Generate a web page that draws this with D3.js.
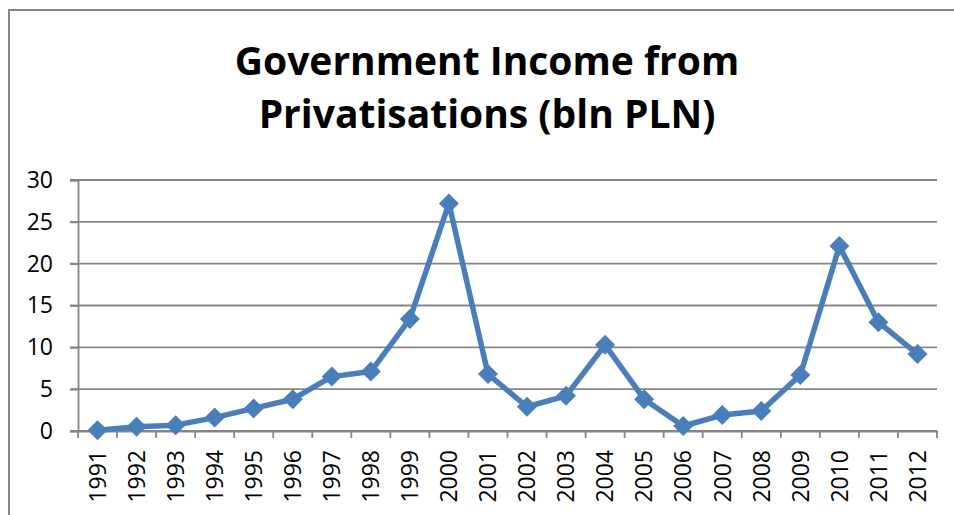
<!DOCTYPE html>
<html>
<head>
<meta charset="utf-8">
<script src="https://cdn.jsdelivr.net/npm/d3@7"></script>
<style>
  body { margin: 0; background: #fff; }
  text { font-family: "Open Sans", "Liberation Sans", sans-serif; fill: #000; }
</style>
</head>
<body>
<div id="chart"></div>
<script>
var years = ["1991","1992","1993","1994","1995","1996","1997","1998","1999","2000","2001",
             "2002","2003","2004","2005","2006","2007","2008","2009","2010","2011","2012"];
var income = [0.1, 0.5, 0.7, 1.6, 2.7, 3.8, 6.5, 7.1, 13.4, 27.2, 6.8,
              2.9, 4.2, 10.3, 3.8, 0.6, 1.9, 2.4, 6.7, 22.1, 13.0, 9.2];
var yTicks = [0, 5, 10, 15, 20, 25, 30];
var titleLines = ["Government Income from", "Privatisations (bln PLN)"];

var width = 954, height = 515;
var margin = { top: 180, right: 17, bottom: 84, left: 78 };
var lineColour = "#4a7ebb";
var gridColour = "#868686";

var svg = d3.select("#chart")
    .append("svg")
    .attr("width", width)
    .attr("height", height);

// outer chart frame (right/bottom run off the picture)
svg.append("rect")
    .attr("x", 9).attr("y", 10)
    .attr("width", 1000).attr("height", 600)
    .attr("fill", "none")
    .attr("stroke", gridColour)
    .attr("stroke-width", 2);

svg.selectAll(".title")
    .data(titleLines)
    .enter().append("text")
    .attr("class", "title")
    .attr("x", 487)
    .attr("y", function(d, i){ return 75 + i * 53; })
    .attr("text-anchor", "middle")
    .style("font-weight", "bold")
    .style("font-size", "39px")
    .text(function(d){ return d; });

var xScale = d3.scaleBand()
    .domain(years)
    .range([margin.left, width - margin.right]);
var yScale = d3.scaleLinear()
    .domain([0, 30])
    .range([height - margin.bottom, margin.top]);

// gridlines
svg.selectAll(".grid")
    .data(yTicks)
    .enter().append("line")
    .attr("class", "grid")
    .attr("x1", margin.left - 8)
    .attr("x2", width - margin.right)
    .attr("y1", function(d){ return yScale(d); })
    .attr("y2", function(d){ return yScale(d); })
    .attr("stroke", gridColour)
    .attr("stroke-width", 1.8);

// y axis
var yAxis = svg.append("g")
    .attr("transform", "translate(" + margin.left + ",0)")
    .attr("font-size", null)
    .call(d3.axisLeft(yScale).tickValues(yTicks).tickSize(8).tickPadding(17));
yAxis.select(".domain").attr("stroke", gridColour).attr("stroke-width", 1.8);
yAxis.selectAll(".tick line").attr("stroke", gridColour).attr("stroke-width", 1.8);
yAxis.selectAll(".tick text")
    .attr("font-family", null)
    .attr("fill", "#000")
    .style("font-size", "23px");

// x axis with ticks between categories
var xAxis = svg.append("g")
    .attr("transform", "translate(0," + yScale(0) + ")")
    .call(d3.axisBottom(xScale).tickSize(0).tickSizeOuter(0));
xAxis.select(".domain").attr("stroke", gridColour).attr("stroke-width", 1.8);
xAxis.selectAll(".tick text")
    .attr("font-family", null)
    .attr("fill", "#000")
    .style("font-size", "23px")
    .attr("text-anchor", "end")
    .attr("transform", "rotate(-90)")
    .attr("x", -19)
    .attr("y", 0)
    .attr("dy", "0.36em");

var bounds = years.map(function(d){ return xScale(d); }).concat([xScale.range()[1]]);
svg.selectAll(".xtick")
    .data(bounds)
    .enter().append("line")
    .attr("class", "xtick")
    .attr("x1", function(d){ return d; })
    .attr("x2", function(d){ return d; })
    .attr("y1", yScale(0))
    .attr("y2", yScale(0) + 7)
    .attr("stroke", gridColour)
    .attr("stroke-width", 1.8);

// series line
var line = d3.line()
    .x(function(d, i){ return xScale(years[i]) + xScale.bandwidth() / 2; })
    .y(function(d){ return yScale(d); });

svg.append("path")
    .datum(income)
    .attr("d", line)
    .attr("fill", "none")
    .attr("stroke", lineColour)
    .attr("stroke-width", 5.5)
    .attr("stroke-linejoin", "round");

var r = 10;
svg.selectAll(".marker")
    .data(income)
    .enter().append("path")
    .attr("class", "marker")
    .attr("transform", function(d, i){
        return "translate(" + (xScale(years[i]) + xScale.bandwidth() / 2) + "," + yScale(d) + ")";
    })
    .attr("d", "M0," + (-r) + "L" + r + ",0L0," + r + "L" + (-r) + ",0Z")
    .attr("fill", lineColour);
</script>
</body>
</html>
